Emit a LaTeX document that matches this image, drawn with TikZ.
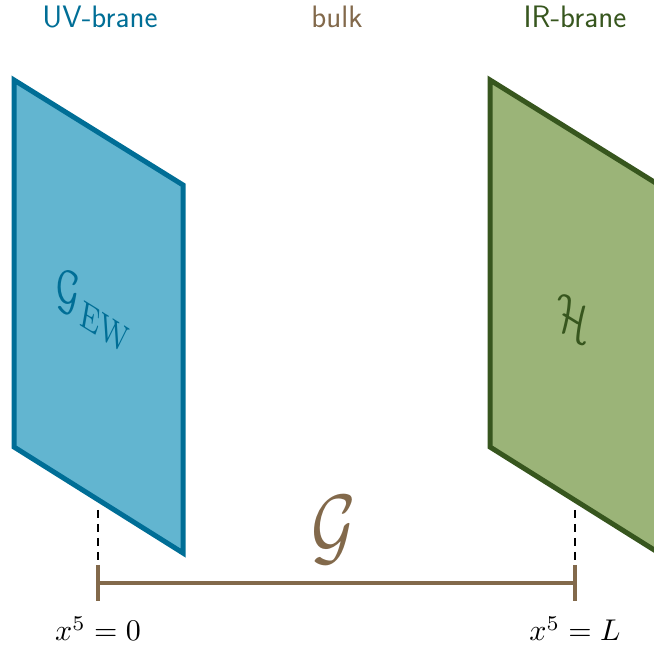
\documentclass[tikz,border=0pt]{standalone}
\usepackage{amsmath}
\usepackage{tikz}
\usetikzlibrary{calc}
\definecolor{UVBlue}{HTML}{006E96}
\definecolor{UVFill}{HTML}{62B5D0}
\definecolor{IRGreen}{HTML}{37561E}
\definecolor{IRFill}{HTML}{9BB478}
\definecolor{BulkBrown}{HTML}{82694B}
\tikzset{
  branelabel/.style={font=\fontsize{31}{36}\selectfont\sffamily, anchor=center},
  uvbrane/.style={draw=UVBlue, fill=UVFill, line width=5pt, line join=miter},
  irbrane/.style={draw=IRGreen, fill=IRFill, line width=5pt, line join=miter},
  panetext/.style={yslant=-0.62, xscale=3.6, yscale=5.8, font=\normalsize},
  posline/.style={black, line width=2.6pt, dash pattern=on 8pt off 6pt},
  bulkbar/.style={draw=BulkBrown, line width=4.5pt},
  poslabel/.style={scale=3, inner sep=0pt, anchor=base, font=\normalsize}
}
\begin{document}
\begin{tikzpicture}[x=1pt, y=1pt]
  \useasboundingbox (0,0) rectangle (654,648);
  \clip (0,0) rectangle (654,648);

  % brane labels
  \node[branelabel, text=UVBlue] (uvlabel) at (100,631) {UV-brane};
  \node[branelabel, text=BulkBrown] (bulklabel) at (337,631) {bulk};
  \node[branelabel, text=IRGreen] (irlabel) at (575,631) {IR-brane};

  % branes
  \draw[uvbrane] (14,568) -- (183,463) -- (183,95) -- (14,201) -- cycle;
  \draw[irbrane] (490,568) -- (659,463) -- (659,95) -- (490,201) -- cycle;
  \node[panetext, text=UVBlue] (gew) at (95,337) {$\mathcal{G}_{EW}$};
  \node[panetext, text=IRGreen] (hgroup) at (573,330) {$\mathcal{H}$};

  % positions along x^5
  \coordinate (uvtop) at (98,138);
  \coordinate (irtop) at (575,138);
  \coordinate (uvend) at (98,65);
  \coordinate (irend) at (575,65);
  \draw[posline] (uvtop) -- ($(uvend)+(0,20)$);
  \draw[posline] (irtop) -- ($(irend)+(0,20)$);
  \draw[bulkbar] (uvend) -- (irend);
  \draw[bulkbar] ($(uvend)+(0,18)$) -- ($(uvend)+(0,-18)$);
  \draw[bulkbar] ($(irend)+(0,18)$) -- ($(irend)+(0,-18)$);
  \node[text=BulkBrown, xscale=6.8, yscale=8.7, font=\normalsize] (bulkgroup) at (334,118) {$\mathcal{G}$};

  \node[poslabel] (uvpos) at (98,7) {$x^5=0$};
  \node[poslabel] (irpos) at (575,7) {$x^5=L$};
\end{tikzpicture}
\end{document}
